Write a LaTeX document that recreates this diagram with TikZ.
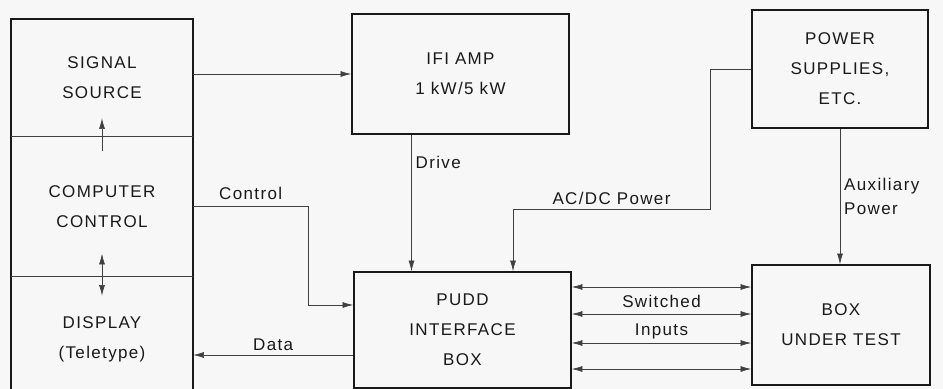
\documentclass[tikz,border=0pt]{standalone}
\usepackage{fontspec}
\setmainfont{Liberation Sans}[LetterSpace=8]
\usetikzlibrary{positioning,arrows.meta}

\begin{document}
\begin{tikzpicture}[
  x=0.03cm, y=-0.03cm,
  box/.style={
    draw=black!90,
    line width=1.4pt,
    align=center,
    inner sep=0pt,
    text=black!90,
    font=\fontsize{14.5}{25.5}\selectfont
  },
  part/.style={
    align=center,
    inner sep=0pt,
    minimum width=5.46cm,
    text=black!90,
    font=\fontsize{14.5}{25.5}\selectfont
  },
  lbl/.style={font=\fontsize{14.5}{20}\selectfont, text=black!90, align=left},
  arrow/.style={-{Latex[length=3.2mm,width=1.8mm]}, line width=0.55pt, draw=black!75},
  twoway/.style={{Latex[length=3.2mm,width=1.8mm]}-{Latex[length=3.2mm,width=1.8mm]}, line width=0.55pt, draw=black!75}
]
\fill[black!3] (0,0) rectangle (943,389);
\clip (0,0) rectangle (943,389);

% Colonne de gauche
\node[part, minimum height=3.51cm] (sig) at (102,77.5) {SIGNAL\\SOURCE};
\node[part, minimum height=4.2cm, below=0pt of sig] (comp) {COMPUTER\\CONTROL};
\node[part, minimum height=3.72cm, below=0pt of comp] (disp) {DISPLAY\\(Teletype)};
\draw[line width=1.4pt, draw=black!90] (sig.north west) rectangle (disp.south east);
\draw[line width=0.55pt, draw=black!75] (sig.south west) -- (sig.south east);
\draw[line width=0.55pt, draw=black!75] (comp.south west) -- (comp.south east);

% Blocs
\node[box, minimum width=6.51cm, minimum height=3.6cm] (ifi) at (460.5,74) {IFI AMP\\1 kW/5 kW};
\node[box, minimum width=5.28cm, minimum height=3.54cm] (psu) at (840,69) {POWER\\SUPPLIES,\\ETC.};
\node[box, minimum width=6.51cm, minimum height=3.48cm] (pudd) at (462.5,330) {PUDD\\INTERFACE\\BOX};
\node[box, minimum width=5.34cm, minimum height=3.6cm] (but) at (841,325) {BOX\\UNDER TEST};
\coordinate (acbend) at (710,209);

% Flèches internes
\draw[arrow] ([yshift=-0.45cm]sig.south) -- ([yshift=0.54cm]sig.south);
\draw[twoway] ([yshift=0.69cm]comp.south) -- ([yshift=-0.57cm]comp.south);

% Flèches
\draw[arrow] (ifi.west -| sig.east) -- (ifi.west);
\draw[arrow] ([xshift=-1.47cm]ifi.south) -- node[pos=0.2, right, lbl]{Drive} ([xshift=-1.47cm]ifi.south |- pudd.north);
\draw[arrow] (comp.east) -| node[pos=0.25, above=2pt, lbl]{Control} ([xshift=-1.35cm,yshift=0.75cm]pudd.west) -- ([yshift=0.75cm]pudd.west);
\draw[arrow] ([yshift=-0.75cm]pudd.west) -- node[above, lbl]{Data} ([yshift=-0.75cm]pudd.west -| disp.east);
\draw[arrow] (psu.west) -| (acbend) -| node[pos=0.25, above, lbl]{AC/DC Power} ([xshift=1.515cm]pudd.north);
\draw[arrow] (psu.south) -- node[right, lbl]{Auxiliary\\Power} (psu.south |- but.north);

% Entrées commutées
\foreach \dy in {1.29,0.48,-0.39,-1.17}
  \draw[twoway] ([yshift=\dy cm]pudd.east) -- ([yshift=\dy cm]pudd.east -| but.west);
\path ([yshift=0.48cm]pudd.east) -- node[above=2pt, lbl]{Switched} ([yshift=0.48cm]pudd.east -| but.west);
\path ([yshift=-0.39cm]pudd.east) -- node[above, lbl]{Inputs} ([yshift=-0.39cm]pudd.east -| but.west);
\end{tikzpicture}
\end{document}
